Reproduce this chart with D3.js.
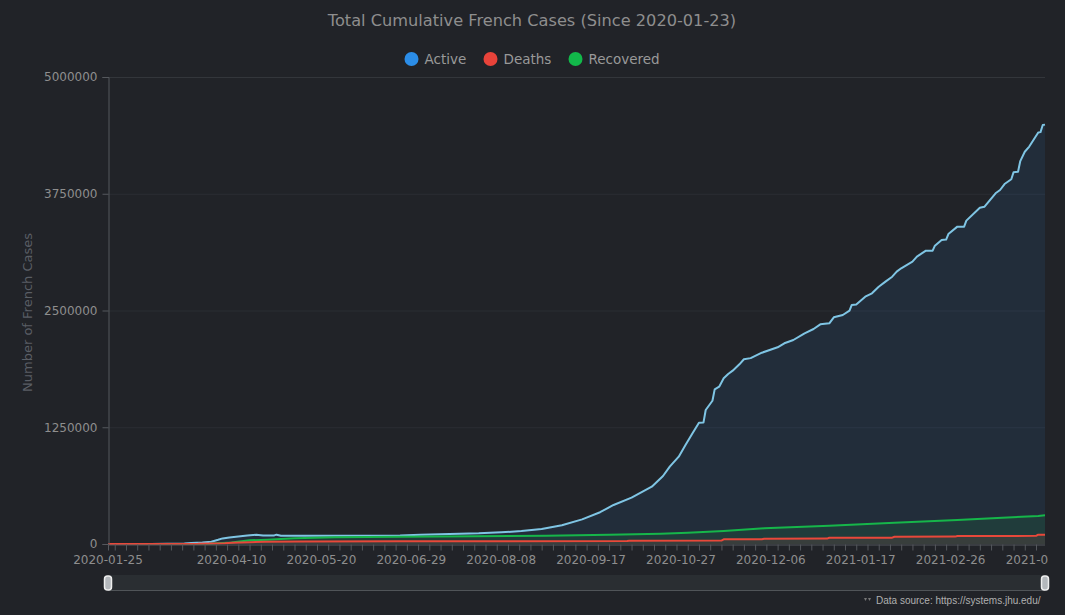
<!DOCTYPE html>
<html>
<head>
<meta charset="utf-8">
<script src="https://cdn.jsdelivr.net/npm/d3@7/dist/d3.min.js"></script>
<style>
  html, body { margin: 0; padding: 0; background: #212328; }
  svg { display: block; }
</style>
</head>
<body>
<svg id="chart" width="1065" height="615"></svg>
<script>
// ---------------- DATA ----------------
const titleText = "Total Cumulative French Cases (Since 2020-01-23)";
const seriesNames = ["Active", "Deaths", "Recovered"];
const yTicks = [0, 1250000, 2500000, 3750000, 5000000];
const yAxisTitle = "Number of French Cases";
const sourceText = "Data source: https://systems.jhu.edu/";

// category axis: first reported day, then daily reports (with a few missing days)
const firstCategory = "2020-01-25";
const dailyFrom = "2020-02-16";
const dailyTo = "2021-04-09";
const missingDates = ["2020-12-25", "2021-01-01"];
const labelEvery = 40;          // one label every 40 categories
const labelStart = 55;          // first regular label category (2020-04-10)

// Active cases (sampled readings)
const activeDates = ["2020-01-25","2020-03-05","2020-03-20","2020-03-23","2020-03-28","2020-04-01","2020-04-04","2020-04-06","2020-04-09","2020-04-13","2020-04-17","2020-04-21","2020-04-24","2020-04-29","2020-04-30","2020-05-02","2020-05-29","2020-06-24","2020-07-03","2020-07-29","2020-08-08","2020-08-17","2020-08-26","2020-09-04","2020-09-13","2020-09-21","2020-09-27","2020-10-05","2020-10-14","2020-10-19","2020-10-22","2020-10-26","2020-10-29","2020-11-01","2020-11-04","2020-11-06","2020-11-07","2020-11-10","2020-11-11","2020-11-13","2020-11-15","2020-11-17","2020-11-19","2020-11-22","2020-11-24","2020-11-27","2020-12-02","2020-12-09","2020-12-12","2020-12-16","2020-12-21","2020-12-26","2020-12-29","2021-01-03","2021-01-05","2021-01-09","2021-01-12","2021-01-13","2021-01-15","2021-01-19","2021-01-22","2021-01-25","2021-01-28","2021-01-31","2021-02-02","2021-02-04","2021-02-09","2021-02-11","2021-02-15","2021-02-18","2021-02-19","2021-02-22","2021-02-24","2021-02-25","2021-03-01","2021-03-04","2021-03-05","2021-03-11","2021-03-13","2021-03-18","2021-03-20","2021-03-22","2021-03-25","2021-03-26","2021-03-28","2021-03-29","2021-03-31","2021-04-02","2021-04-06","2021-04-07","2021-04-08","2021-04-09"];
const activeValues = [0,0,5000,12000,15000,25000,45000,60000,70000,80000,90000,100000,92000,92000,100000,88000,88000,90000,100000,114000,125000,139000,160000,200000,264000,340000,418000,496000,614000,728000,828000,935000,1060000,1180000,1299000,1300000,1435000,1534000,1656000,1684000,1774000,1820000,1856000,1924000,1978000,1990000,2048000,2106000,2149000,2184000,2256000,2302000,2352000,2363000,2427000,2452000,2498000,2559000,2565000,2648000,2684000,2755000,2809000,2862000,2916000,2952000,3023000,3077000,3141000,3141000,3194000,3255000,3260000,3319000,3398000,3398000,3462000,3601000,3610000,3755000,3790000,3854000,3905000,3980000,3985000,4100000,4200000,4255000,4405000,4410000,4486000,4490000];

// Deaths (sampled readings)
const deathDates = ["2020-01-25","2020-03-26","2020-04-07","2020-04-10","2020-04-18","2020-04-25","2020-05-11","2020-06-24","2020-10-03","2020-10-04","2020-11-14","2020-11-15","2020-12-02","2020-12-03","2021-01-02","2021-01-03","2021-01-31","2021-02-01","2021-02-28","2021-03-01","2021-04-05","2021-04-06","2021-04-09"];
const deathValues = [0,2000,9000,14000,20000,25000,28000,30000,31000,35000,37000,50000,51000,57000,58000,67000,68000,78000,79000,86000,87000,100000,100000];

// Recovered (sampled readings)
const recoveredDates = ["2020-01-25","2020-03-31","2020-04-02","2020-04-10","2020-04-18","2020-04-26","2020-05-08","2020-05-26","2020-06-24","2020-08-28","2020-09-25","2020-10-18","2020-10-30","2020-11-15","2020-12-03","2021-01-03","2021-02-01","2021-03-01","2021-03-21","2021-04-06","2021-04-09"];
const recoveredValues = [0,2000,5000,15000,40000,46000,61000,72000,78000,89000,100000,110000,121000,139000,168000,196000,228000,257000,282000,300000,307000];

// ---------------- BUILD ----------------
const fmt = d3.timeFormat("%Y-%m-%d");
const parse = d3.timeParse("%Y-%m-%d");
const categories = [firstCategory].concat(
  d3.timeDay.range(parse(dailyFrom), d3.timeDay.offset(parse(dailyTo), 1))
    .map(fmt).filter(d => !missingDates.includes(d))
);
const catIndex = new Map(categories.map((d, i) => [d, i]));

const mk = (dates, vals) => dates.map((d, i) => ({ i: catIndex.get(d), v: vals[i] }));
const series = [
  { name: "Active", data: mk(activeDates, activeValues), line: "#7fc5e4", fill: "rgba(46,140,230,0.10)" },
  { name: "Recovered", data: mk(recoveredDates, recoveredValues), line: "#16b64a", fill: "rgba(20,185,70,0.11)" },
  { name: "Deaths", data: mk(deathDates, deathValues), line: "#e8483a", fill: "rgba(230,80,70,0.12)" }
];
const legendColor = { Active: "#2b8de8", Deaths: "#e8433a", Recovered: "#12b84a" };

const L = 108, R = 1045, T = 77, B = 544;
const x = d3.scaleLinear().domain([0, categories.length - 1]).range([L, R]);
const y = d3.scaleLinear().domain([0, 5000000]).range([B, T]);

const svg = d3.select("#chart");
const font = "'DejaVu Sans', sans-serif";

svg.append("defs").append("clipPath").attr("id", "labelClip")
  .append("rect").attr("x", 0).attr("y", 0).attr("width", 1048).attr("height", 615);

// grid lines
svg.append("g").selectAll("line").data(yTicks.filter(t => t > 0)).join("line")
  .attr("x1", L).attr("x2", R).attr("y1", d => y(d) + 0.5).attr("y2", d => y(d) + 0.5)
  .attr("stroke", d => d === 5000000 ? "#33363b" : "#2b2e33").attr("stroke-width", 1);

// areas + lines
const area = d3.area().x(d => x(d.i)).y0(y(0)).y1(d => y(d.v));
const line = d3.line().x(d => x(d.i)).y(d => y(d.v));
series.forEach(s => {
  svg.append("path").datum(s.data).attr("d", area).attr("fill", s.fill);
});
series.forEach(s => {
  svg.append("path").datum(s.data).attr("d", line)
    .attr("fill", "none").attr("stroke", s.line).attr("stroke-width", 2)
    .attr("stroke-linejoin", "round");
});

// y axis
const yAxis = d3.axisLeft(y).tickValues(yTicks).tickSize(6).tickPadding(5).tickFormat(d3.format("d"));
const gy = svg.append("g").attr("transform", `translate(${L + 0.5},0)`).call(yAxis);
gy.select(".domain").attr("stroke", "#55585d");
gy.selectAll(".tick line").attr("stroke", "#55585d");
gy.selectAll(".tick text").attr("fill", "#8e8e8e").attr("font-size", 12).attr("font-family", font);

// x axis
const tickIdx = [0].concat(d3.range(3, categories.length, 5));
const labelIdx = [0].concat(d3.range(labelStart, categories.length, labelEvery));
const xAxis = d3.axisBottom(x).tickValues(tickIdx).tickSize(6).tickFormat("");
const gx = svg.append("g").attr("transform", `translate(0,${B + 0.5})`).call(xAxis);
gx.select(".domain").attr("stroke", "#55585d").attr("d", `M${L},0.5H${R}`);
gx.selectAll(".tick line").attr("stroke", "#55585d");
svg.append("g").attr("clip-path", "url(#labelClip)").selectAll("text").data(labelIdx).join("text")
  .attr("x", d => x(d)).attr("y", B + 20)
  .attr("text-anchor", "middle").attr("fill", "#8e8e8e")
  .attr("font-size", 12).attr("font-family", font)
  .text(d => categories[d]);

// y axis title
svg.append("text").attr("transform", `translate(32,${(T + B) / 2 + 2}) rotate(-90)`)
  .attr("text-anchor", "middle").attr("fill", "#5a5e65")
  .attr("font-size", 13).attr("font-family", font).text(yAxisTitle);

// title
svg.append("text").attr("x", 532).attr("y", 26).attr("text-anchor", "middle")
  .attr("fill", "#8e8e8e").attr("font-size", 16.2).attr("font-family", font).text(titleText);

// legend
const legendX = [411.5, 490.5, 575.5];
const lg = svg.append("g").selectAll("g").data(seriesNames).join("g")
  .attr("transform", (d, i) => `translate(${legendX[i]},59)`);
lg.append("circle").attr("r", 7).attr("fill", d => legendColor[d]);
lg.append("text").attr("x", 13).attr("y", 5).attr("fill", "#999")
  .attr("font-size", 13.5).attr("font-family", font).text(d => d);

// data zoom slider
svg.append("rect").attr("x", L).attr("y", 575).attr("width", R - L).attr("height", 16).attr("fill", "#2a2e32");
svg.append("line").attr("x1", L).attr("x2", R).attr("y1", 590.5).attr("y2", 590.5).attr("stroke", "#505458");
[L, R].forEach(hx => {
  svg.append("rect").attr("x", hx - 3.5).attr("y", 576).attr("width", 7).attr("height", 14).attr("rx", 3)
    .attr("fill", "#b4b8bc").attr("stroke", "#eeeeee").attr("stroke-width", 1.5);
});

// data source
const ic = svg.append("g").attr("transform", "translate(864,600)").attr("fill", "#777");
ic.append("path").attr("d", "M0,-2 L3,-2 L1.5,1 Z");
ic.append("path").attr("d", "M4,-2 L7,-2 L5.5,1 Z");
svg.append("text").attr("x", 876).attr("y", 604).attr("fill", "#b0b0b0")
  .attr("font-size", 10).attr("font-family", "'Liberation Sans', Arial, sans-serif").text(sourceText);
</script>
</body>
</html>
